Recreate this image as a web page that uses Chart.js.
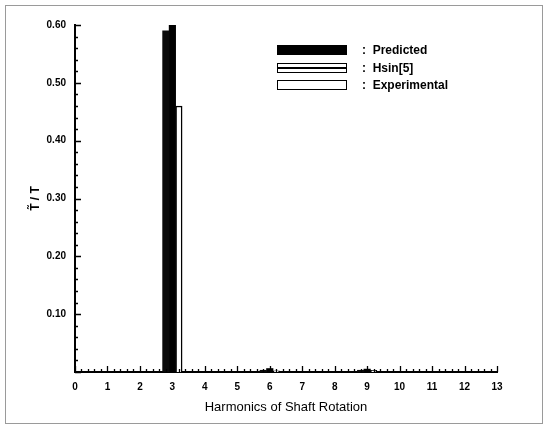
<!DOCTYPE html>
<html>
<head>
<meta charset="utf-8">
<script src="https://cdn.jsdelivr.net/npm/chart.js@4/dist/chart.umd.min.js"></script>
<style>
  html, body { margin: 0; padding: 0; background: #fff; }
  #wrap { position: relative; width: 548px; height: 428px; }
  canvas { display: block; }
  .row { position: absolute; left: 277px; height: 12px; font: bold 12px "Liberation Sans", Arial, sans-serif; color: #000; }
  .box { position: absolute; left: 0; top: 0; width: 70px; height: 10px; box-sizing: border-box; }
  .lbl { position: absolute; left: 85px; top: -2px; white-space: nowrap; line-height: 14px; }
</style>
</head>
<body>
<div id="wrap">
  <canvas id="c" width="548" height="428"></canvas>
  <div class="row" style="top:45px"><div class="box" style="background:#000;"></div><div class="lbl">:&nbsp; Predicted</div></div>
  <div class="row" style="top:63px"><div class="box" style="border:1.5px solid #000;background:linear-gradient(to bottom,#fff 0%,#fff 35%,#000 35%,#000 60%,#fff 60%,#fff 100%);"></div><div class="lbl">:&nbsp; Hsin[5]</div></div>
  <div class="row" style="top:80px"><div class="box" style="border:1.5px solid #000;background:#fff;"></div><div class="lbl">:&nbsp; Experimental</div></div>
</div>
<script>
// ---- data ----
const harmonics = [3, 6, 9];
const predicted = [0.60, 0.006, 0.005];
const hsin = [0.59, 0.003, 0.003];
const experimental = [0.46, 0.002, 0.003];
const yTickValues = [0.1, 0.2, 0.3, 0.4, 0.5, 0.6];
const xTickValues = [0,1,2,3,4,5,6,7,8,9,10,11,12,13];

const toPts = arr => harmonics.map((h, i) => ({x: h, y: arr[i]}));

const framePlugin = {
  id: 'frame',
  beforeDraw(chart) {
    const ctx = chart.ctx;
    ctx.save();
    ctx.fillStyle = '#fff';
    ctx.fillRect(0, 0, chart.width, chart.height);
    ctx.strokeStyle = '#9a9a9a';
    ctx.lineWidth = 1;
    ctx.strokeRect(5.5, 5.5, 537, 418);
    ctx.restore();
  }
};

const inwardTicks = {
  id: 'inwardTicks',
  afterDraw(chart) {
    const ctx = chart.ctx, xs = chart.scales.x, ys = chart.scales.y;
    ctx.save();
    ctx.strokeStyle = '#000';
    ctx.lineWidth = 1.3;
    ctx.beginPath();
    for (let i = 0; i <= 30; i++) {
      const py = Math.round(ys.getPixelForValue(i / 50)) + 0.5;
      const len = (i % 5 === 0) ? 6 : 3;
      ctx.moveTo(ys.right, py);
      ctx.lineTo(ys.right + len, py);
    }
    for (let i = 0; i <= 65; i++) {
      const px = Math.round(xs.getPixelForValue(i / 5)) + 0.5;
      const len = (i % 5 === 0) ? 6 : 3;
      ctx.moveTo(px, xs.top);
      ctx.lineTo(px, xs.top - len);
    }
    ctx.stroke();
    ctx.restore();
  }
};

const tickFont = { family: '"Liberation Sans", Arial, sans-serif', size: 10, weight: 'bold' };

new Chart(document.getElementById('c'), {
  type: 'bar',
  data: {
    datasets: [
      { label: 'Hsin[5]', data: toPts(hsin), backgroundColor: '#0a0a0a', borderWidth: 0 },
      { label: 'Predicted', data: toPts(predicted), backgroundColor: '#000', borderWidth: 0 },
      { label: 'Experimental', data: toPts(experimental), backgroundColor: '#fff', borderColor: '#000', borderWidth: 1.5, borderSkipped: 'bottom' }
    ]
  },
  options: {
    responsive: false,
    animation: false,
    events: [],
    barThickness: 6.5,
    layout: { padding: { left: 0, right: 51, top: 25, bottom: 0 } },
    plugins: { legend: { display: false }, tooltip: { enabled: false } },
    scales: {
      x: {
        type: 'linear',
        offset: false,
        min: 0, max: 13,
        afterFit(s) { s.height = 56; },
        afterBuildTicks(s) { s.ticks = xTickValues.map(v => ({value: v})); },
        grid: { display: false, offset: false },
        border: { display: true, color: '#000', width: 2 },
        ticks: { padding: 1, color: '#000', font: tickFont, maxRotation: 0, autoSkip: false },
        title: { display: true, text: 'Harmonics of Shaft Rotation', color: '#000', font: { family: '"Liberation Sans", Arial, sans-serif', size: 13 }, padding: { top: 4, bottom: 13 } }
      },
      y: {
        type: 'linear',
        min: 0, max: 0.6,
        afterFit(s) { s.width = 75; },
        afterBuildTicks(s) { s.ticks = yTickValues.map(v => ({value: v})); },
        grid: { display: false },
        border: { display: true, color: '#000', width: 2 },
        ticks: { padding: 1, color: '#000', font: tickFont, callback: v => v.toFixed(2) },
        title: { display: true, text: 'T\u0303 / T', color: '#000', font: { family: '"Liberation Sans", Arial, sans-serif', size: 12, weight: 'bold' }, padding: { top: 28, bottom: 0 } }
      }
    }
  },
  plugins: [framePlugin, inwardTicks]
});
</script>
</body>
</html>
